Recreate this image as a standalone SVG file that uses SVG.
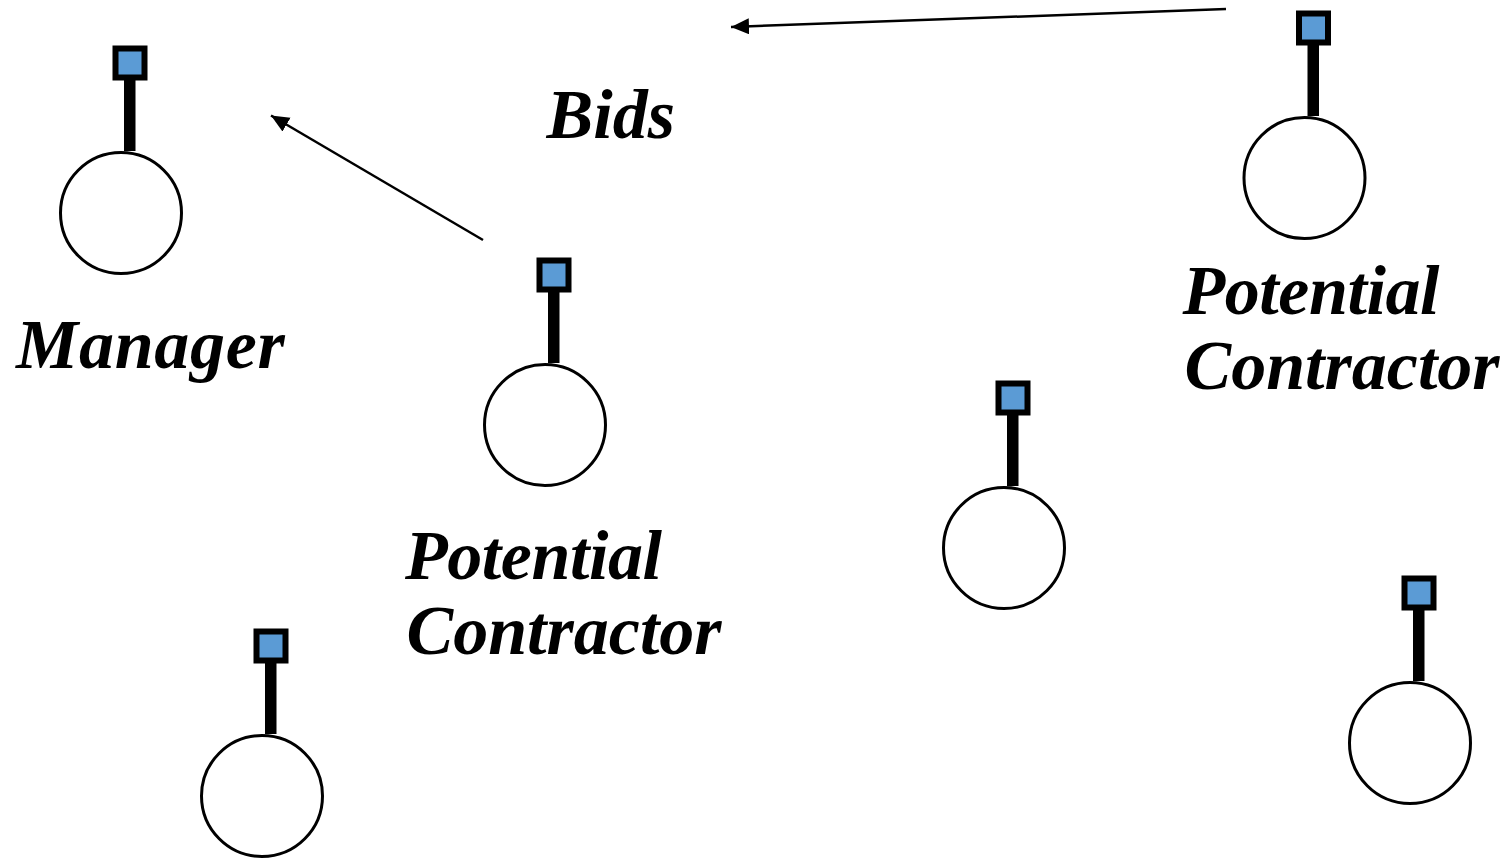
<svg xmlns="http://www.w3.org/2000/svg" width="1507" height="858" viewBox="0 0 1507 858">
<style>
.c{fill:#fff;stroke:#000;stroke-width:3}
.s{fill:#000}
.q{fill:#5b9bd5;stroke:#000;stroke-width:6}
.t{font-family:"Liberation Serif","Times New Roman",serif;font-weight:bold;font-style:italic;font-size:70px;fill:#000}
.m{letter-spacing:.7px}
.p{letter-spacing:-.45px}
.a{stroke:#000;stroke-width:2.5;fill:none;marker-end:url(#ah)}
</style>
<defs>
<marker id="ah" markerUnits="userSpaceOnUse" markerWidth="20" markerHeight="18" refX="18" refY="8" orient="auto"><path d="M0 0L18 8L0 16Z" fill="#000"/></marker>
<g id="agent"><circle class="c" r="60.500" cy="0"/><rect class="s" x="3" y="-134" width="11.500" height="72"/><rect class="q" x="-5.500" y="-164.500" width="29" height="29"/></g>
</defs>
<rect width="1507" height="858" fill="#fff"/>
<g id="connectors">
<path class="a" d="M1226 9L731 27"/>
<path class="a" d="M483 240L271 115.500"/>
</g>
<g id="manager"><use href="#agent" x="121" y="213"/><text class="t m" x="16" y="368">Manager</text></g>
<g id="contractor-1"><use href="#agent" x="545" y="425"/><text class="t p" x="405" y="579">Potential</text><text class="t" x="406.500" y="654">Contractor</text></g>
<g id="contractor-2"><use href="#agent" x="1304.500" y="178"/><text class="t p" x="1182.500" y="314">Potential</text><text class="t" x="1184.500" y="389">Contractor</text></g>
<g id="agent-3"><use href="#agent" x="1004" y="548"/></g>
<g id="agent-4"><use href="#agent" x="1410" y="743"/></g>
<g id="agent-5"><use href="#agent" x="262" y="796"/></g>
<g id="bids"><text class="t" x="546.500" y="138">Bids</text></g>
</svg>
